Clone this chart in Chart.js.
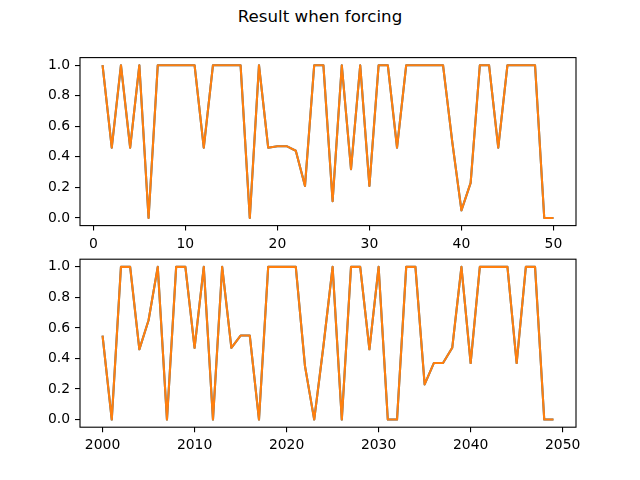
<!DOCTYPE html>
<html>
<head>
<meta charset="utf-8">
<script src="https://cdn.jsdelivr.net/npm/chart.js@4/dist/chart.umd.min.js"></script>
<style>
    html, body { margin: 0; padding: 0; background: #fff; }
    #page { position: relative; width: 640px; height: 480px; overflow: hidden; }
    #title {
        position: absolute; left: 0; top: 7px; width: 640px;
        text-align: center; font: 16.67px "DejaVu Sans"; line-height: 20px; color: #000;
    }
    canvas { position: absolute; left: 0; }
</style>
</head>
<body>
<div id="page">
    <div id="title">Result when forcing</div>
    <canvas id="top" width="640" height="250" style="top:0"></canvas>
    <canvas id="bottom" width="640" height="250" style="top:230px"></canvas>
</div>
<script>
// top panel: step index
const topX = [1, 2, 3, 4, 5, 6, 7, 8, 9, 10, 11, 12, 13, 14, 15, 16, 17, 18, 19, 20,
    21, 22, 23, 24, 25, 26, 27, 28, 29, 30, 31, 32, 33, 34, 35, 36, 37, 38, 39, 40,
    41, 42, 43, 44, 45, 46, 47, 48, 49, 50];
const topValues = [1.0, 0.46, 1.0, 0.46, 1.0, 0.0, 1.0, 1.0, 1.0, 1.0,
    1.0, 0.46, 1.0, 1.0, 1.0, 1.0, 0.0, 1.0, 0.46, 0.47,
    0.47, 0.44, 0.21, 1.0, 1.0, 0.11, 1.0, 0.32, 1.0, 0.21,
    1.0, 1.0, 0.46, 1.0, 1.0, 1.0, 1.0, 1.0, 0.5, 0.05,
    0.23, 1.0, 1.0, 0.46, 1.0, 1.0, 1.0, 1.0, 0.0, 0.0];

// bottom panel: years
const bottomX = [2000, 2001, 2002, 2003, 2004, 2005, 2006, 2007, 2008, 2009,
    2010, 2011, 2012, 2013, 2014, 2015, 2016, 2017, 2018, 2019,
    2020, 2021, 2022, 2023, 2024, 2025, 2026, 2027, 2028, 2029,
    2030, 2031, 2032, 2033, 2034, 2035, 2036, 2037, 2038, 2039,
    2040, 2041, 2042, 2043, 2044, 2045, 2046, 2047, 2048, 2049];
const bottomValues = [0.55, 0.0, 1.0, 1.0, 0.46, 0.65, 1.0, 0.0, 1.0, 1.0,
    0.47, 1.0, 0.0, 1.0, 0.47, 0.55, 0.55, 0.0, 1.0, 1.0,
    1.0, 1.0, 0.35, 0.0, 0.48, 1.0, 0.0, 1.0, 1.0, 0.46,
    1.0, 0.0, 0.0, 1.0, 1.0, 0.23, 0.37, 0.37, 0.47, 1.0,
    0.37, 1.0, 1.0, 1.0, 1.0, 0.37, 1.0, 1.0, 0.0, 0.0];

const topXTicks = [0, 10, 20, 30, 40, 50];
const bottomXTicks = [2000, 2010, 2020, 2030, 2040, 2050];
const yTicks = [0.0, 0.2, 0.4, 0.6, 0.8, 1.0];

const BLUE = '#1f77b4';
const ORANGE = '#ff7f0e';
const FONT = { family: 'DejaVu Sans', size: 13.9 };

// matplotlib-style box around the axes
const frame = {
    id: 'frame',
    afterDatasetsDraw(chart) {
        const { ctx, chartArea: a } = chart;
        ctx.save();
        ctx.strokeStyle = '#000';
        ctx.lineWidth = 1.1;
        ctx.strokeRect(a.left, a.top, a.right - a.left, a.bottom - a.top);
        ctx.restore();
    }
};

function pad(xs) {
    const span = xs[xs.length - 1] - xs[0];
    return [xs[0] - span * 0.05, xs[xs.length - 1] + span * 0.05];
}

function makePanel(id, xs, ys, xTicks, areaTop, areaBottom) {
    const canvas = document.getElementById(id);
    const points = xs.map((x, i) => ({ x: x, y: ys[i] }));
    const [xmin, xmax] = pad(xs);
    const tickGrid = {
        display: true, drawOnChartArea: false, drawTicks: true,
        tickLength: 5, color: '#000', lineWidth: 1.1
    };

    return new Chart(canvas, {
        type: 'line',
        data: {
            datasets: [
                { data: points, borderColor: ORANGE, borderWidth: 2.1, pointRadius: 0, order: 0, tension: 0, borderJoinStyle: 'round' },
                { data: points, borderColor: BLUE, borderWidth: 2.1, pointRadius: 0, order: 1, tension: 0, borderJoinStyle: 'round' }
            ]
        },
        options: {
            responsive: false,
            animation: false,
            events: [],
            layout: { padding: { top: areaTop, left: 0, right: 64, bottom: 0 } },
            plugins: { legend: { display: false }, tooltip: { enabled: false } },
            scales: {
                x: {
                    type: 'linear', min: xmin, max: xmax,
                    grid: tickGrid,
                    border: { display: false },
                    afterBuildTicks: (s) => { s.ticks = xTicks.map(v => ({ value: v })); },
                    afterFit: (s) => { s.height = canvas.height - areaBottom; },
                    ticks: { font: FONT, color: '#000', padding: 5, maxRotation: 0, autoSkip: false,
                        callback: (v) => String(v) }
                },
                y: {
                    type: 'linear', min: -0.05, max: 1.05,
                    grid: tickGrid,
                    border: { display: false },
                    afterBuildTicks: (s) => { s.ticks = yTicks.map(v => ({ value: v })); },
                    afterFit: (s) => { s.width = 80; },
                    ticks: { font: FONT, color: '#000', padding: 5, autoSkip: false,
                        callback: (v) => v.toFixed(1) }
                }
            }
        },
        plugins: [frame]
    });
}

makePanel('top', topX, topValues, topXTicks, 57.6, 225.6);
makePanel('bottom', bottomX, bottomValues, bottomXTicks, 29.2, 197.2);
</script>
</body>
</html>
